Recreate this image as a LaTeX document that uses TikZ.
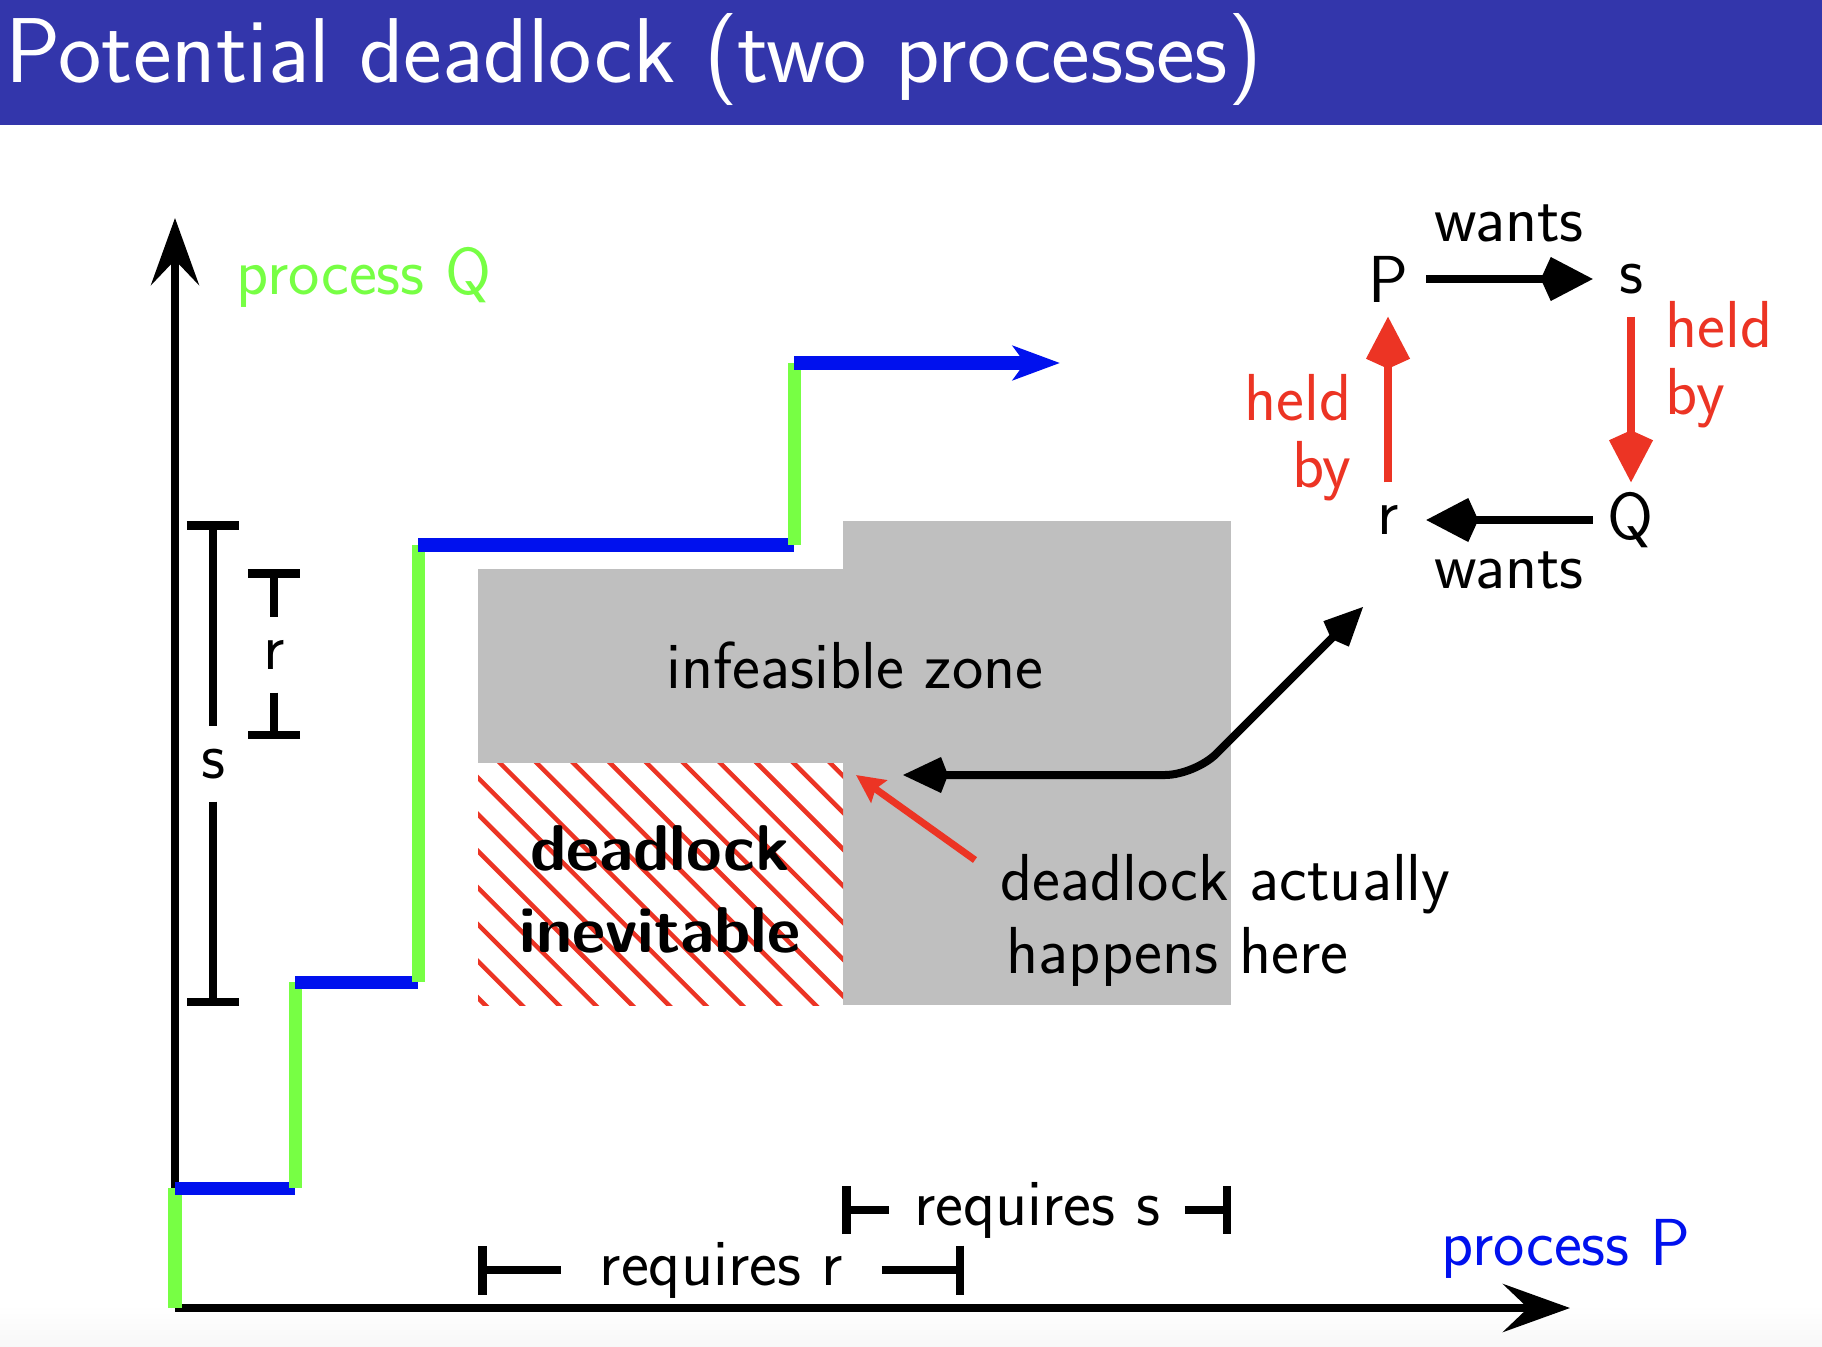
\documentclass[tikz,border=0pt]{standalone}
\usetikzlibrary{arrows.meta}
\definecolor{titlebg}{RGB}{51,54,171}
\definecolor{qgreen}{RGB}{119,255,68}
\definecolor{pblue}{RGB}{0,17,238}
\definecolor{hred}{RGB}{236,52,36}
\definecolor{zonegray}{RGB}{191,191,191}
\tikzset{
  axisline/.style={line width=0.08cm,-{Stealth[length=0.67cm,width=0.48cm,inset=0.25cm]}},
  qstep/.style={qgreen,line width=0.13cm},
  pstep/.style={pblue,line width=0.13cm},
  kitetip/.style={-{Kite[length=0.52cm,width=0.44cm,inset=0.1cm]}},
  wantarrow/.style={black,line width=0.08cm,kitetip},
  heldarrow/.style={hred,line width=0.08cm,kitetip},
  gnode/.style={minimum width=0.75cm,minimum height=0.74cm,inner sep=0pt},
  dimline/.style={line width=0.085cm},
  dimlabel/.style={minimum height=0.74cm,inner sep=0pt},
  bodyfont/.style={font=\sffamily\fontsize{18.9}{22}\selectfont},
}
\begin{document}
\begin{tikzpicture}[x=0.01cm,y=-0.01cm,bodyfont]
\useasboundingbox (0,0) rectangle (1822,1346);
\fill[white] (0,0) rectangle (1822,1346);
\shade[top color=white,bottom color=black!3] (0,1305) rectangle (1822,1346);
% title bar
\fill[titlebg] (0,0) rectangle (1822,125);
\node[anchor=base west,inner sep=0pt,text=white,font=\sffamily\fontsize{26.2}{32}\selectfont] (title) at (5,83) {Potential deadlock (two processes)};

% zones
\fill[zonegray] (478,569) rectangle (843,763);
\fill[zonegray] (843,521) rectangle (1231,1005);
\begin{scope}
  \clip (478,763) rectangle (843,1005);
  \foreach \k in {-8,...,10}
    \draw[hred,line width=0.045cm] ({500+36.7*\k-300},463) -- ++(600,600);
\end{scope}
\node[inner sep=0pt,anchor=base] (infz) at (855,688) {infeasible zone};
\node[inner sep=0pt,align=center,font=\sffamily\bfseries\fontsize{18.4}{23.3}\selectfont] (inev) at (660,889) {deadlock\\inevitable};
\node[inner sep=0pt,align=left,anchor=west,font=\sffamily\fontsize{18.9}{20.8}\selectfont] (happ) at (1000,920) {deadlock actually\\\hspace*{0.06cm}happens here};

% axes
\coordinate (origin) at (175,1308);
\coordinate (ytip) at (175,218);
\coordinate (xtip) at (1570,1308);
\draw[axisline] (origin) -- (ytip);
\draw[axisline] (origin) -- (xtip);
\node[anchor=base west,inner sep=0pt,text=qgreen] (procQ) at (236,295) {process Q};
\node[anchor=base west,inner sep=0pt,text=pblue] (procP) at (1441,1265) {process P};

% joint progress path
\coordinate (p0) at (175,1308);
\coordinate (p1) at (175,1188);
\coordinate (p2) at (295,1188);
\coordinate (p3) at (295,982);
\coordinate (p4) at (418,982);
\coordinate (p5) at (418,545);
\coordinate (p6) at (794,545);
\coordinate (p7) at (794,363);
\coordinate (p8) at (1060,363);
\draw[qstep] (p0) -- (p1);
\draw[pstep] (p1) -- (p2);
\draw[qstep] (p2) -- (p3);
\draw[pstep] (p3) -- (p4);
\draw[qstep] (p4) -- (p5);
\draw[pstep] (p5) -- (p6);
\draw[qstep] (p6) -- (p7);
\draw[pstep,-{Stealth[length=0.47cm,width=0.34cm,inset=0.12cm]}] (p7) -- (p8);

% vertical dimension brackets
\node[dimlabel] (slab) at (213,764) {s};
\coordinate (sTop) at (213,521);
\coordinate (sBot) at (213,1006);
\draw[dimline,{Bar[width=0.52cm]}-] (sTop) -- (slab);
\draw[dimline,-{Bar[width=0.52cm]}] (slab) -- (sBot);
\node[dimlabel] (rlab) at (274,655) {r};
\coordinate (rTop) at (274,569);
\coordinate (rBot) at (274,739);
\draw[dimline,{Bar[width=0.52cm]}-] (rTop) -- (rlab);
\draw[dimline,-{Bar[width=0.52cm]}] (rlab) -- (rBot);

% horizontal dimension brackets
\node[minimum width=3.19cm,inner sep=0pt] (reqr) at (721.5,1270) {requires r};
\coordinate (rrL) at (478,1270);
\coordinate (rrR) at (964,1270);
\draw[dimline,{Bar[width=0.49cm]}-] (rrL) -- (reqr);
\draw[dimline,-{Bar[width=0.49cm]}] (reqr) -- (rrR);
\node[minimum width=2.94cm,inner sep=0pt] (reqs) at (1037,1210) {requires s};
\coordinate (rsL) at (842,1210);
\coordinate (rsR) at (1231,1210);
\draw[dimline,{Bar[width=0.48cm]}-] (rsL) -- (reqs);
\draw[dimline,-{Bar[width=0.48cm]}] (reqs) -- (rsR);

% arrows into the zone
\coordinate (redtail) at (975,860);
\coordinate (redtip) at (856,775);
\draw[hred,line width=0.07cm,-{Stealth[length=0.28cm,width=0.27cm,inset=0.04cm]}] (redtail) -- (redtip);
\coordinate (dlA) at (903,775);
\coordinate (dlC) at (1195,775);
\coordinate (dlB) at (1363,607);
\draw[line width=0.08cm,rounded corners=0.3cm,{Kite[length=0.45cm,width=0.36cm,inset=0.07cm]}-{Kite[length=0.45cm,width=0.36cm,inset=0.07cm]}] (dlA) -- (dlC) -- (dlB);

% wait-for graph
\node[gnode] (P) at (1388,279) {P};
\node[gnode] (s) at (1631,279) {s};
\node[gnode] (r) at (1388,520) {r};
\node[gnode] (Q) at (1631,520) {Q};
\draw[wantarrow] (P) -- (s);
\draw[wantarrow] (Q) -- (r);
\draw[heldarrow] (s) -- (Q);
\draw[heldarrow] (r) -- (P);
\node[anchor=base,inner sep=0pt] (wtop) at (1509,242) {wants};
\node[anchor=base,inner sep=0pt] (wbot) at (1509,588) {wants};
\node[inner sep=0pt,align=left,anchor=west,text=hred,font=\sffamily\fontsize{18.9}{19}\selectfont] (heldR) at (1665,365) {held\\by};
\node[inner sep=0pt,align=right,anchor=east,text=hred,font=\sffamily\fontsize{18.9}{19}\selectfont] (heldL) at (1352,438) {held\\by};
\end{tikzpicture}
\end{document}
